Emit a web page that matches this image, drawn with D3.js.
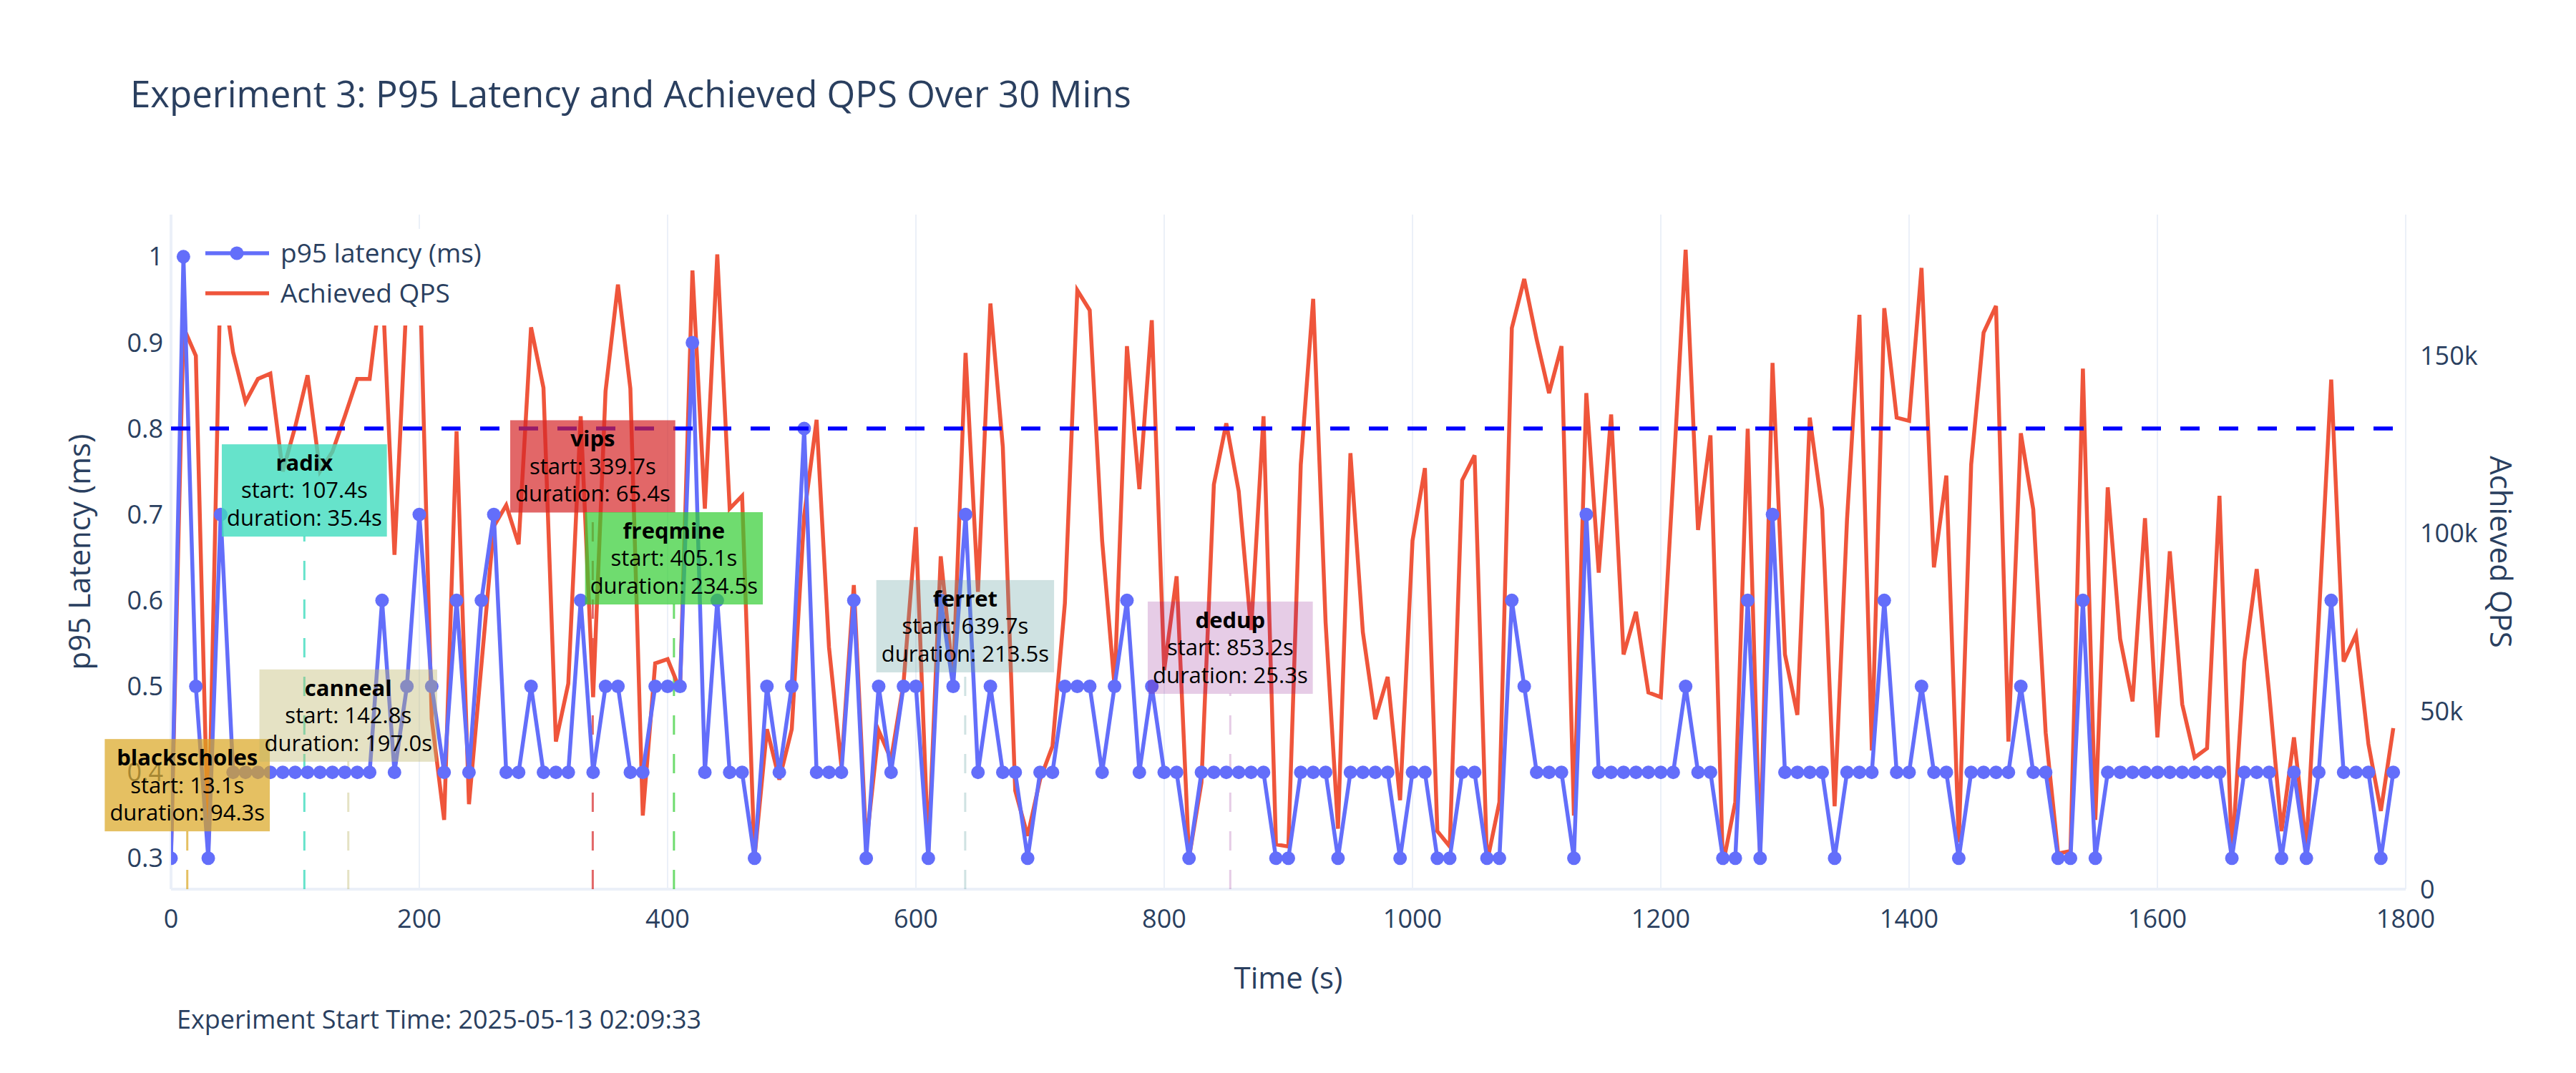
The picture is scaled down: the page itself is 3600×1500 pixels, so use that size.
<!DOCTYPE html>
<html>
<head>
<meta charset="utf-8">
<script src="https://cdn.jsdelivr.net/npm/d3@7"></script>
<style>
  body { margin: 0; background: #fff; }
  svg { font-family: "Open Sans", "DejaVu Sans", sans-serif; }
</style>
</head>
<body>
<svg id="chart" width="3600" height="1500"></svg>
<script>
// sample times (s), one sample every 10 s
const times = d3.range(0, 1800, 10);

const latency = [
  0.3,1.0,0.5,0.3,0.7,0.4,0.4,0.4,0.4,0.4,
  0.4,0.4,0.4,0.4,0.4,0.4,0.4,0.6,0.4,0.5,
  0.7,0.5,0.4,0.6,0.4,0.6,0.7,0.4,0.4,0.5,
  0.4,0.4,0.4,0.6,0.4,0.5,0.5,0.4,0.4,0.5,
  0.5,0.5,0.9,0.4,0.6,0.4,0.4,0.3,
  0.5,0.4,0.5,0.8,0.4,0.4,0.4,0.6,0.3,0.5,
  0.4,0.5,0.5,0.3,0.6,0.5,0.7,0.4,0.5,0.4,
  0.4,0.3,0.4,0.4,0.5,0.5,0.5,0.4,0.5,0.6,
  0.4,0.5,0.4,0.4,0.3,0.4,0.4,0.4,0.4,0.4,
  0.4,0.3,0.3,0.4,0.4,
  0.4,0.3,0.4,0.4,0.4,0.4,0.3,0.4,0.4,0.3,
  0.3,0.4,0.4,0.3,0.3,0.6,0.5,0.4,0.4,0.4,
  0.3,0.7,0.4,0.4,0.4,0.4,0.4,0.4,0.4,0.5,
  0.4,0.4,0.3,0.3,0.6,0.3,0.7,0.4,0.4,0.4,
  0.4,0.3,0.4,0.4,0.4,0.6,
  0.4,0.4,0.5,0.4,0.4,0.3,0.4,0.4,0.4,0.4,
  0.5,0.4,0.4,0.3,0.3,0.6,0.3,0.4,0.4,0.4,
  0.4,0.4,0.4,0.4,0.4,0.4,0.4,0.3,0.4,0.4,
  0.4,0.3,0.4,0.3,0.4,0.6,0.4,0.4,0.4,0.3,
  0.4
];

// achieved QPS, thousands
const qpsK = [
  10,158,150,10,175,151,137,143.5,145,117.5,
  130,144.5,117.5,123,133,143.5,143.5,172,94,168,
  178,47.8,19.5,128.8,23.9,63,102,108,97,158,
  141,41.5,57.8,133,54,140,170,140.8,20.7,63.5,
  64.7,56,174,107,178.5,107,110.6,8.8,
  45,30.8,45,105,132,68,34.6,85.5,12.6,44.6,
  36.5,57.8,101.8,10.7,93.6,59,150.8,83.6,164.7,124.4,
  27.7,15,30.8,40.2,80.4,168.4,162.8,98,57,152.7,
  112.5,160,61.6,88,8.8,30,113.8,131,111.9,72.9,
  133,12.6,12,119.4,166,
  75,17,122.6,72.3,47.8,59.7,25,98,118.4,16.3,
  12,115,122,7.5,24.5,157.8,171.6,154.6,139.5,152.7,
  20.7,139.5,89,133.5,66,78,55.3,54,115.6,179.8,
  101,127.6,6.9,24.5,129.5,8.8,148,66,49,132.6,
  106.8,23.3,104,161.5,39,163.4,
  132.6,131.7,174.7,90.5,116.3,13.2,119.4,156.5,164,41.5,
  128.2,106.8,44,10,10.7,146.4,19.5,113,70.4,52.8,
  104.3,42.7,95,52,37,39.6,110.6,8.8,64,90,
  55.3,16.3,42.7,12,76,143.3,64,71.6,40.8,22,
  45.3
];

const jobNames = ['blackscholes', 'radix', 'canneal', 'vips', 'freqmine', 'ferret', 'dedup'];
const jobStarts = [13.1, 107.4, 142.8, 339.7, 405.1, 639.7, 853.2];
const jobDurations = [94.3, 35.4, 197.0, 65.4, 234.5, 213.5, 25.3];
const jobLabelY = [0.385, 0.728, 0.466, 0.756, 0.649, 0.570, 0.545];
const jobColors = [
  'rgba(218,165,32,0.7)', 'rgba(64,220,190,0.8)', 'rgba(189,183,107,0.4)',
  'rgba(214,39,40,0.7)', 'rgba(50,205,50,0.7)', 'rgba(95,158,160,0.3)', 'rgba(128,0,128,0.2)'
];

const latencyTicks = [0.3, 0.4, 0.5, 0.6, 0.7, 0.8, 0.9, 1];
const qpsTicks = [0, 50000, 100000, 150000];
const timeTicks = [0, 200, 400, 600, 800, 1000, 1200, 1400, 1600, 1800];
const sloLatency = 0.8;

const margin = { left: 239, right: 3362, top: 300, bottom: 1243 };
const ink = '#2a3f5f';

const svg = d3.select('#chart');

const x = d3.scaleLinear().domain([0, 1800]).range([margin.left, margin.right]);
const yLat = d3.scaleLinear().domain([0.264, 1.049]).range([margin.bottom, margin.top]);
const yQps = d3.scaleLinear().domain([0, 189700]).range([margin.bottom, margin.top]);

// vertical grid
svg.append('g')
  .selectAll('line')
  .data(timeTicks)
  .join('line')
  .attr('x1', d => x(d)).attr('x2', d => x(d))
  .attr('y1', margin.top).attr('y2', margin.bottom)
  .attr('stroke', '#ebf0f8')
  .attr('stroke-width', d => d === 0 ? 4 : 2);

// bottom zero line of the QPS axis
svg.append('line')
  .attr('x1', margin.left).attr('x2', margin.right)
  .attr('y1', yQps(0)).attr('y2', yQps(0))
  .attr('stroke', '#ebf0f8').attr('stroke-width', 4);

// job start markers
const jobs = jobNames.map((name, i) => ({
  name, start: jobStarts[i], duration: jobDurations[i], y: jobLabelY[i], color: jobColors[i]
}));

svg.append('g')
  .selectAll('line')
  .data(jobs)
  .join('line')
  .attr('x1', d => x(d.start)).attr('x2', d => x(d.start))
  .attr('y1', margin.bottom).attr('y2', d => yLat(d.y) + 64)
  .attr('stroke', d => d.color)
  .attr('stroke-width', 3)
  .attr('stroke-dasharray', '27,27');

svg.append('clipPath').attr('id', 'plotclip')
  .append('rect')
  .attr('x', margin.left).attr('y', margin.top)
  .attr('width', margin.right - margin.left).attr('height', margin.bottom - margin.top);

const plot = svg.append('g').attr('clip-path', 'url(#plotclip)');

// QPS line
const qpsLine = d3.line()
  .x((d, i) => x(times[i]))
  .y(d => yQps(d * 1000));
plot.append('path')
  .datum(qpsK)
  .attr('d', qpsLine)
  .attr('fill', 'none')
  .attr('stroke', '#EF553B')
  .attr('stroke-width', 5.5);

// latency line + markers
const latLine = d3.line()
  .x((d, i) => x(times[i]))
  .y(d => yLat(d));
plot.append('path')
  .datum(latency)
  .attr('d', latLine)
  .attr('fill', 'none')
  .attr('stroke', '#636efa')
  .attr('stroke-width', 5.5);
plot.append('g')
  .selectAll('circle')
  .data(latency)
  .join('circle')
  .attr('cx', (d, i) => x(times[i]))
  .attr('cy', d => yLat(d))
  .attr('r', 9.5)
  .attr('fill', '#636efa');

// SLO line
svg.append('line')
  .attr('x1', x(0)).attr('x2', x(times[times.length - 1]))
  .attr('y1', yLat(sloLatency)).attr('y2', yLat(sloLatency))
  .attr('stroke', '#0000ff')
  .attr('stroke-width', 5.5)
  .attr('stroke-dasharray', '27,27');

// axes labels
svg.append('g')
  .selectAll('text')
  .data(latencyTicks)
  .join('text')
  .attr('x', 228).attr('y', d => yLat(d))
  .attr('dy', '0.35em')
  .attr('text-anchor', 'end')
  .attr('font-size', 36).attr('fill', ink)
  .text(d => d3.format('~g')(d));

svg.append('g')
  .selectAll('text')
  .data(qpsTicks)
  .join('text')
  .attr('x', 3382).attr('y', d => yQps(d))
  .attr('dy', '0.35em')
  .attr('font-size', 36).attr('fill', ink)
  .text(d => d === 0 ? '0' : d3.format('~s')(d));

svg.append('g')
  .selectAll('text')
  .data(timeTicks)
  .join('text')
  .attr('x', d => x(d)).attr('y', 1297)
  .attr('text-anchor', 'middle')
  .attr('font-size', 36).attr('fill', ink)
  .text(d => d);

svg.append('text')
  .attr('x', (margin.left + margin.right) / 2).attr('y', 1382)
  .attr('text-anchor', 'middle')
  .attr('font-size', 42).attr('fill', ink)
  .text('Time (s)');

svg.append('text')
  .attr('transform', `translate(126, ${(margin.top + margin.bottom) / 2}) rotate(-90)`)
  .attr('text-anchor', 'middle')
  .attr('font-size', 42).attr('fill', ink)
  .text('p95 Latency (ms)');

svg.append('text')
  .attr('transform', `translate(3480, ${(margin.top + margin.bottom) / 2}) rotate(90)`)
  .attr('text-anchor', 'middle')
  .attr('font-size', 42).attr('fill', ink)
  .text('Achieved QPS');

// title + footer
svg.append('text')
  .attr('x', 182).attr('y', 150)
  .attr('font-size', 51).attr('fill', ink)
  .text('Experiment 3: P95 Latency and Achieved QPS Over 30 Mins');

svg.append('text')
  .attr('x', 247).attr('y', 1438)
  .attr('font-size', 36).attr('fill', ink)
  .text('Experiment Start Time: 2025-05-13 02:09:33');

// legend
const legend = svg.append('g');
legend.append('rect')
  .attr('x', 268).attr('y', 320).attr('width', 420).attr('height', 135)
  .attr('fill', '#fff');
legend.append('line')
  .attr('x1', 287).attr('x2', 376).attr('y1', 354).attr('y2', 354)
  .attr('stroke', '#636efa').attr('stroke-width', 5.5);
legend.append('circle')
  .attr('cx', 331).attr('cy', 354).attr('r', 9.5).attr('fill', '#636efa');
legend.append('line')
  .attr('x1', 287).attr('x2', 376).attr('y1', 410).attr('y2', 410)
  .attr('stroke', '#EF553B').attr('stroke-width', 5.5);
legend.append('text')
  .attr('x', 392).attr('y', 354).attr('dy', '0.35em')
  .attr('font-size', 37).attr('fill', ink)
  .text('p95 latency (ms)');
legend.append('text')
  .attr('x', 392).attr('y', 410).attr('dy', '0.35em')
  .attr('font-size', 37).attr('fill', ink)
  .text('Achieved QPS');

// job annotations
const notes = svg.append('g')
  .selectAll('g')
  .data(jobs)
  .join('g')
  .attr('transform', d => `translate(${x(d.start)}, ${yLat(d.y)})`);

notes.each(function (d) {
  const g = d3.select(this);
  const bg = g.append('rect').attr('fill', d.color);
  const lines = [
    { text: d.name, bold: true },
    { text: `start: ${d.start.toFixed(1)}s` },
    { text: `duration: ${d.duration.toFixed(1)}s` },
  ];
  let maxW = 0;
  lines.forEach((l, i) => {
    const t = g.append('text')
      .attr('x', 0).attr('y', (i - 1) * 38.5)
      .attr('dy', '0.35em')
      .attr('text-anchor', 'middle')
      .attr('font-size', 31)
      .attr('font-weight', l.bold ? 700 : 400)
      .attr('fill', '#000')
      .text(l.text);
    maxW = Math.max(maxW, t.node().getComputedTextLength());
  });
  const w = maxW + 14;
  const h = 129;
  bg.attr('x', -w / 2).attr('y', -h / 2).attr('width', w).attr('height', h);
});
</script>
</body>
</html>
